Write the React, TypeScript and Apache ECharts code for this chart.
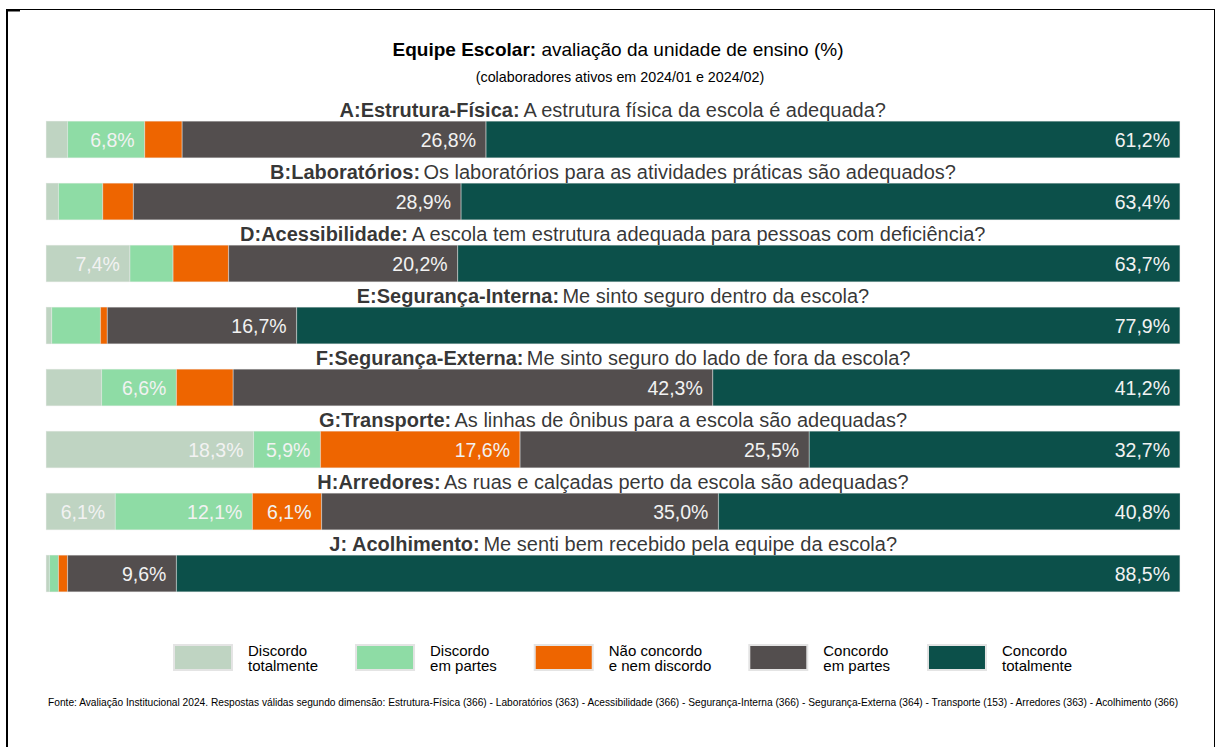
import React, { useEffect, useRef } from "react";
import * as echarts from "echarts";

const catCodes = [
  "A:Estrutura-Física:",
  "B:Laboratórios:",
  "D:Acessibilidade:",
  "E:Segurança-Interna:",
  "F:Segurança-Externa:",
  "G:Transporte:",
  "H:Arredores:",
  "J: Acolhimento:",
];
const questions = [
  "A estrutura física da escola é adequada?",
  "Os laboratórios para as atividades práticas são adequados?",
  "A escola tem estrutura adequada para pessoas com deficiência?",
  "Me sinto seguro dentro da escola?",
  "Me sinto seguro do lado de fora da escola?",
  "As linhas de ônibus para a escola são adequadas?",
  "As ruas e calçadas perto da escola são adequadas?",
  "Me senti bem recebido pela equipe da escola?",
];
const seriesNames = [
  "Discordo\ntotalmente",
  "Discordo\nem partes",
  "Não concordo\ne nem discordo",
  "Concordo\nem partes",
  "Concordo\ntotalmente",
];
const discordoTotalmente = [1.9, 1.1, 7.4, 0.5, 4.9, 18.3, 6.1, 0.3];
const discordoEmPartes = [6.8, 3.9, 3.8, 4.3, 6.6, 5.9, 12.1, 0.8];
const neutro = [3.3, 2.7, 4.9, 0.6, 5.0, 17.6, 6.1, 0.8];
const concordoEmPartes = [26.8, 28.9, 20.2, 16.7, 42.3, 25.5, 35.0, 9.6];
const concordoTotalmente = [61.2, 63.4, 63.7, 77.9, 41.2, 32.7, 40.8, 88.5];
const seriesValues = [
  discordoTotalmente,
  discordoEmPartes,
  neutro,
  concordoEmPartes,
  concordoTotalmente,
];
const colors = ["#bfd4c2", "#8edca5", "#ee6500", "#534e4e", "#0c504a"];

const titleBold = "Equipe Escolar:";
const titleRest = " avaliação da unidade de ensino (%)";
const subtitle = "(colaboradores ativos em 2024/01 e 2024/02)";
const footer =
  "Fonte: Avaliação Institucional 2024. Respostas válidas segundo dimensão: Estrutura-Física (366) - Laboratórios (363) - Acessibilidade (366) - Segurança-Interna (366) - Segurança-Externa (364) - Transporte (153) - Arredores (363) - Acolhimento (366)";

const FONT = "'Liberation Sans', Arial, sans-serif";

export default function App() {
  const ref = useRef<HTMLDivElement>(null);
  useEffect(() => {
    document.body.style.margin = "0";
    if (!ref.current) return;
    const chart = echarts.init(ref.current, null, { renderer: "svg" });
    const barSeries = seriesNames.map((name, i) => ({
      name,
      type: "bar",
      stack: "total",
      barWidth: 37,
      data: seriesValues[i],
      itemStyle: { color: colors[i], borderColor: "#e4e4e4", borderWidth: 0.3 },
      label: {
        show: true,
        position: "insideRight",
        distance: 10,
        color: "#f2f2f2",
        fontSize: 19.5,
        fontFamily: FONT,
        formatter: (p: any) =>
          p.value >= 5.5 ? `${Number(p.value).toFixed(1).replace(".", ",")}%` : "",
      },
    }));
    const titleSeries = {
      name: "titulos",
      type: "scatter",
      symbolSize: 0,
      silent: true,
      data: catCodes.map((c, i) => ({ value: [50, c], q: questions[i] })),
      label: {
        show: true,
        position: "inside",
        offset: [0, -30],
        fontFamily: FONT,
        formatter: (p: any) => `{b|${p.data.value[1]}} {n|${p.data.q}}`,
        rich: {
          b: { fontSize: 20, fontWeight: "bold", color: "#000", fontFamily: FONT },
          n: { fontSize: 20, fontWeight: "normal", color: "#000", fontFamily: FONT },
        },
      },
    };
    chart.setOption({
      animation: false,
      textStyle: { fontFamily: FONT },
      title: [
        {
          text: `{b|${titleBold}}{n|${titleRest}}`,
          left: 613,
          textAlign: "center",
          top: 35,
          textStyle: {
            fontWeight: "normal",
            rich: {
              b: { fontSize: 19, fontWeight: "bold", color: "#000", fontFamily: FONT },
              n: { fontSize: 19, fontWeight: "normal", color: "#000", fontFamily: FONT },
            },
          },
        },
        {
          text: subtitle,
          left: 615,
          textAlign: "center",
          top: 65,
          textStyle: { fontSize: 14.3, fontWeight: "normal", color: "#000", fontFamily: FONT },
        },
      ],
      legend: {
        data: seriesNames,
        top: 637.5,
        left: 168,
        itemWidth: 58,
        itemHeight: 25,
        itemGap: 37,
        icon: "rect",
        selectedMode: false,
        textStyle: {
          fontSize: 15,
          lineHeight: 15,
          color: "#000",
          fontFamily: FONT,
          padding: [0, 0, 0, 11],
        },
      },
      grid: { left: 46, right: 36, top: 108.5, height: 496 },
      xAxis: { type: "value", min: 0, max: 100, show: false },
      yAxis: {
        type: "category",
        data: catCodes,
        inverse: true,
        show: false,
      },
      series: [...barSeries, titleSeries],
      graphic: [
        { type: "line", shape: { x1: 7, y1: 9, x2: 7, y2: 747 }, style: { stroke: "#000", lineWidth: 2 } },
        { type: "line", shape: { x1: 7, y1: 9.5, x2: 1214.5, y2: 9.5 }, style: { stroke: "#000", lineWidth: 1 } },
        { type: "line", shape: { x1: 1214.5, y1: 9, x2: 1214.5, y2: 747 }, style: { stroke: "#000", lineWidth: 1 } },
        { type: "line", shape: { x1: 7, y1: 10.5, x2: 20, y2: 10.5 }, style: { stroke: "#000", lineWidth: 2 } },
        {
          type: "text",
          x: 48,
          y: 702,
          style: {
            text: footer,
            fontSize: 10.2,
            fill: "#000",
            fontFamily: FONT,
            verticalAlign: "middle",
          },
        },
      ],
    });
    return () => chart.dispose();
  }, []);
  return <div ref={ref} style={{ width: 1216, height: 747 }} />;
}
